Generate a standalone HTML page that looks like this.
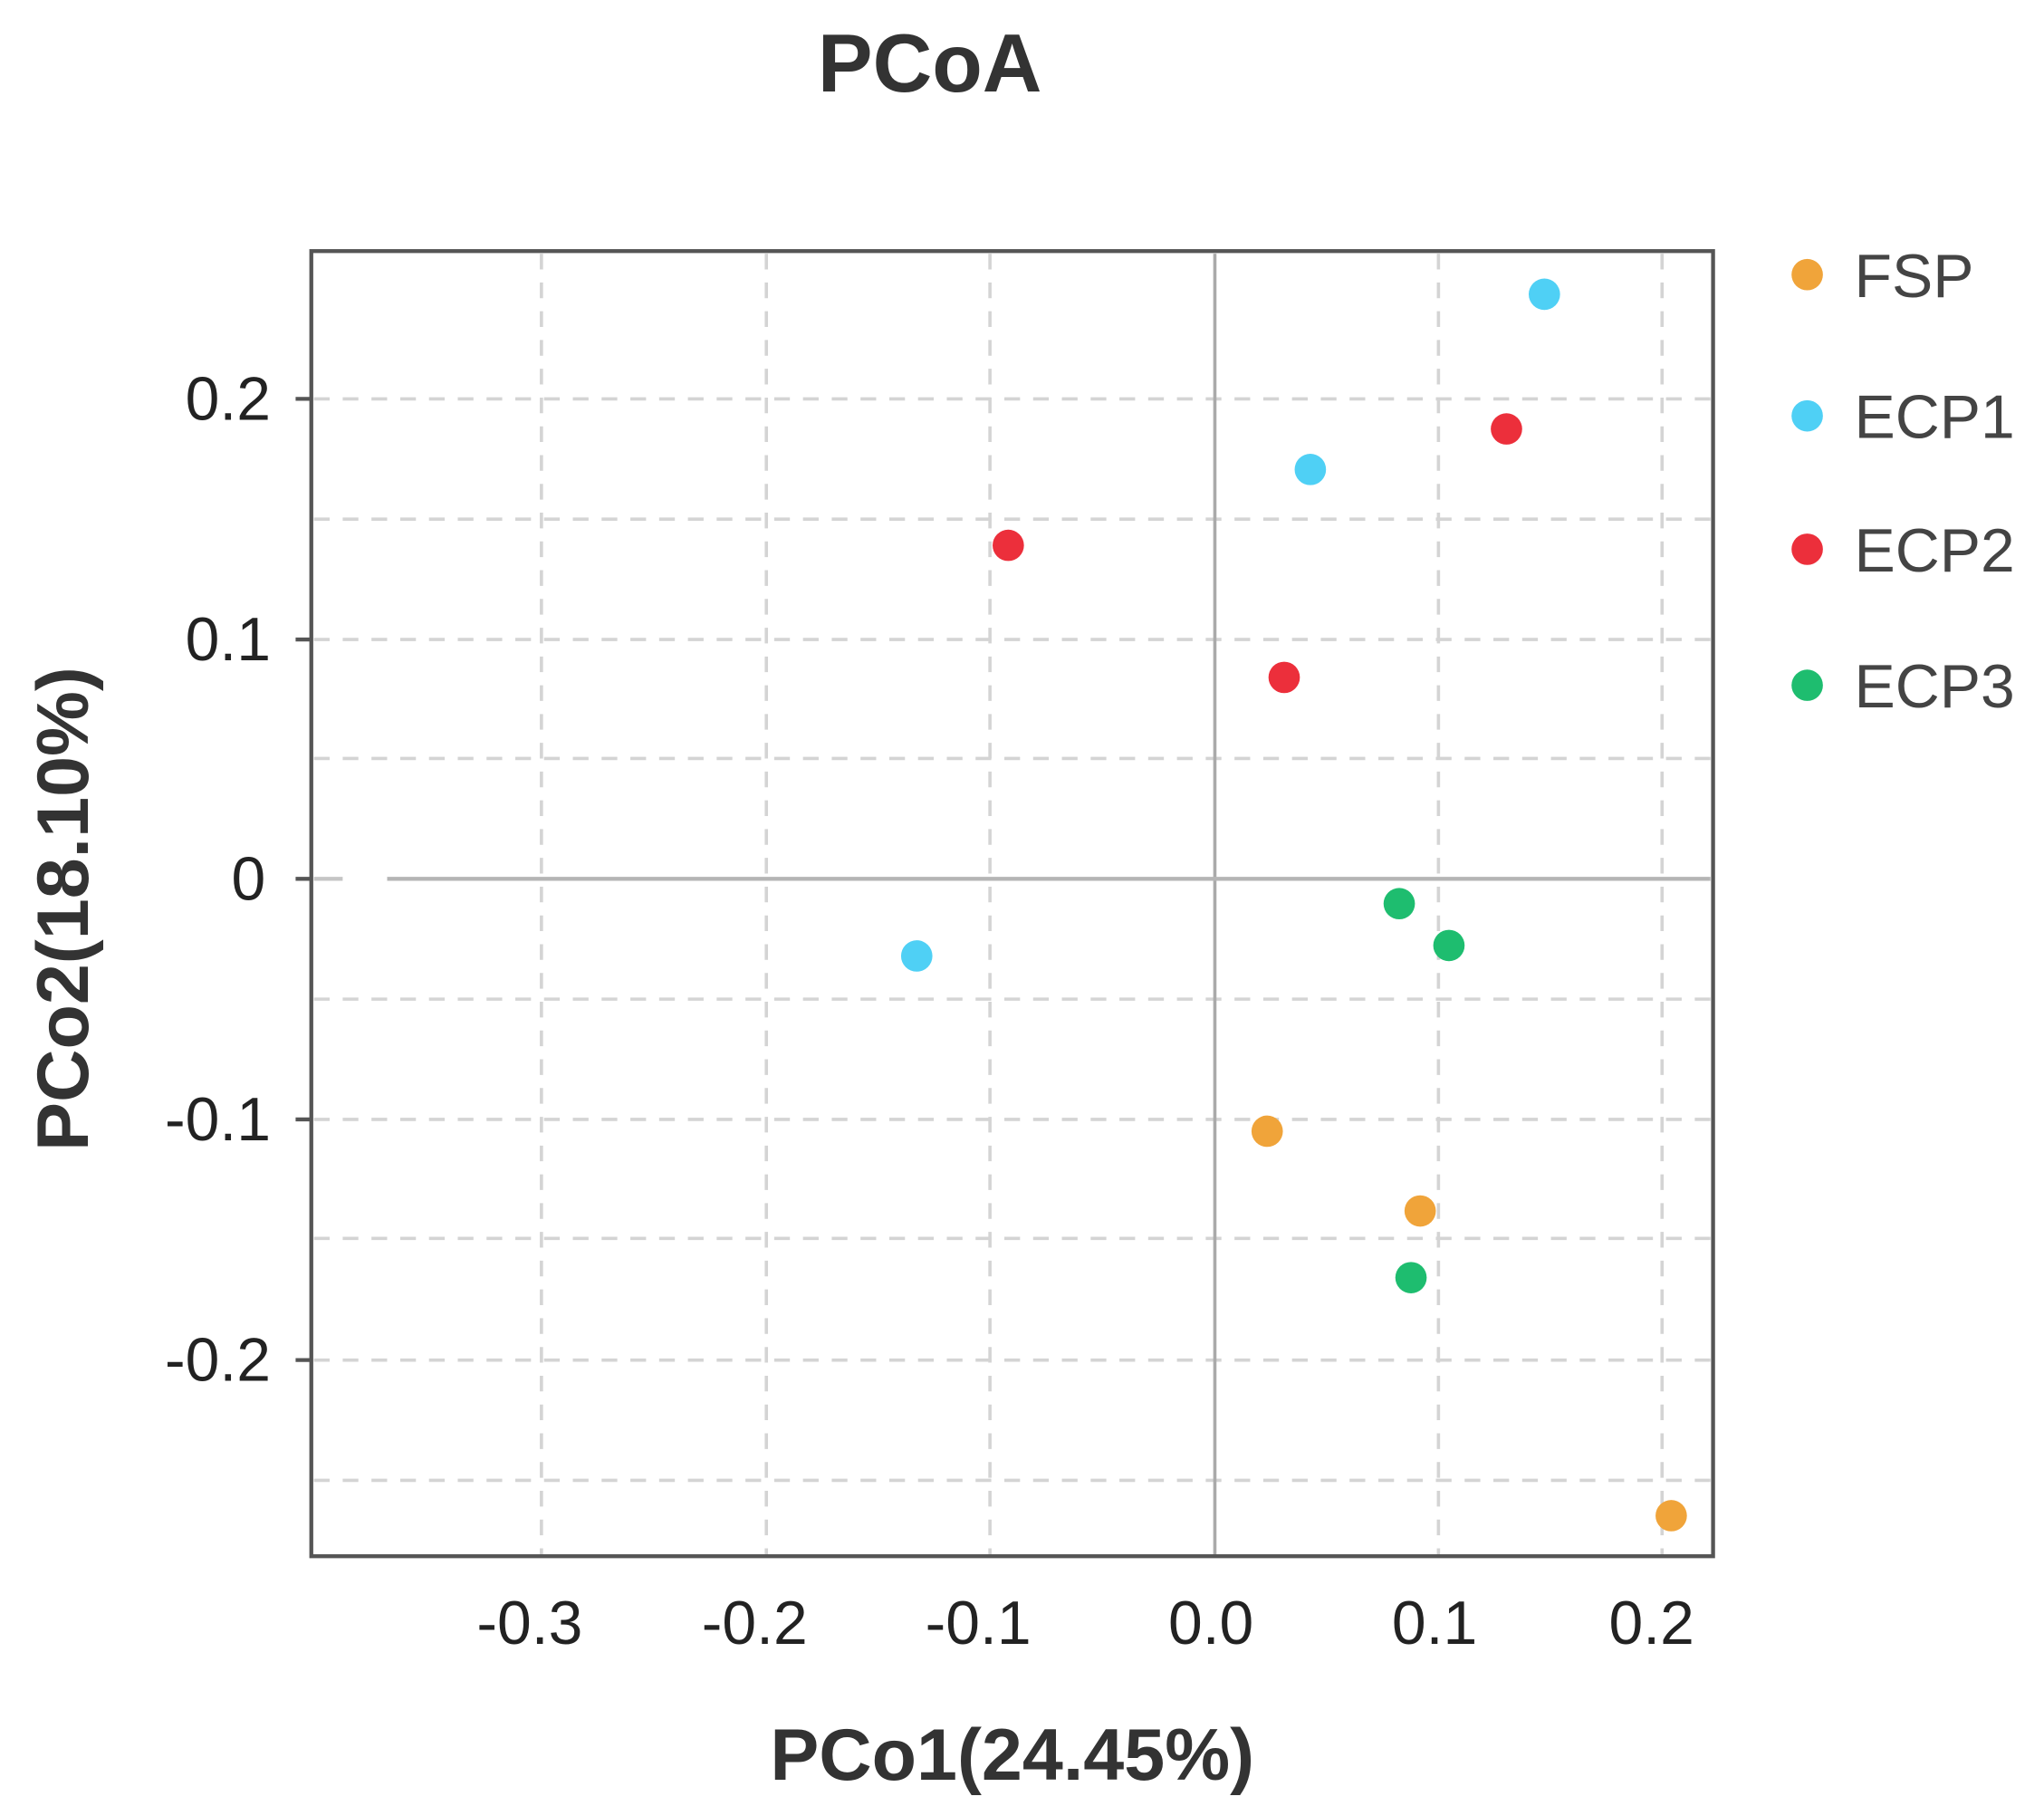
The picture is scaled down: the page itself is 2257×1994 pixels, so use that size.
<!DOCTYPE html>
<html><head><meta charset="utf-8"><style>html,body{margin:0;padding:0;background:#fff}svg{display:block}</style></head>
<body>
<svg width="2257" height="1994" viewBox="0 0 1563 1381" xmlns="http://www.w3.org/2000/svg" font-family="Liberation Sans, sans-serif">
<rect width="1563" height="1381" fill="#fff"/>
<text x="711" y="70" font-size="63" font-weight="bold" text-anchor="middle" fill="#333">PCoA</text>
<g stroke="#d4d4d4" stroke-width="2.5" stroke-dasharray="12,10">
<line x1="414" y1="194" x2="414" y2="1189"/>
<line x1="586" y1="194" x2="586" y2="1189"/>
<line x1="757" y1="194" x2="757" y2="1189"/>
<line x1="1100" y1="194" x2="1100" y2="1189"/>
<line x1="1271" y1="194" x2="1271" y2="1189"/>
<line x1="240" y1="305" x2="1308" y2="305"/>
<line x1="240" y1="397" x2="1308" y2="397"/>
<line x1="240" y1="489" x2="1308" y2="489"/>
<line x1="240" y1="580" x2="1308" y2="580"/>
<line x1="240" y1="764" x2="1308" y2="764"/>
<line x1="240" y1="856" x2="1308" y2="856"/>
<line x1="240" y1="947" x2="1308" y2="947"/>
<line x1="240" y1="1040" x2="1308" y2="1040"/>
<line x1="240" y1="1132" x2="1308" y2="1132"/>
</g>
<line x1="929" y1="194" x2="929" y2="1189" stroke="#aaa" stroke-width="2.5"/>
<line x1="296" y1="672" x2="1308" y2="672" stroke="#b5b5b5" stroke-width="3"/>
<line x1="240" y1="672" x2="262" y2="672" stroke="#c5c5c5" stroke-width="3"/>
<rect x="238" y="192" width="1072" height="998" fill="none" stroke="#555" stroke-width="3"/>
<g stroke="#555" stroke-width="3">
<line x1="226" y1="305" x2="238" y2="305"/><line x1="226" y1="489" x2="238" y2="489"/>
<line x1="226" y1="672" x2="238" y2="672"/><line x1="226" y1="856" x2="238" y2="856"/>
<line x1="226" y1="1040" x2="238" y2="1040"/>
</g>
<g font-size="47" fill="#222" text-anchor="end">
<text x="207" y="321">0.2</text><text x="207" y="505">0.1</text><text x="203" y="688">0</text>
<text x="207" y="872">-0.1</text><text x="207" y="1056">-0.2</text>
</g>
<g font-size="47" fill="#222" text-anchor="middle">
<text x="405" y="1257">-0.3</text><text x="577" y="1257">-0.2</text><text x="748" y="1257">-0.1</text>
<text x="926" y="1257">0.0</text><text x="1097" y="1257">0.1</text><text x="1263" y="1257">0.2</text>
</g>
<text x="774" y="1361" font-size="56" font-weight="bold" text-anchor="middle" fill="#333">PCo1(24.45%)</text>
<text transform="translate(67,695) rotate(-90)" font-size="56" font-weight="bold" text-anchor="middle" fill="#333">PCo2(18.10%)</text>
<g>
<circle cx="1181" cy="225" r="12" fill="#4fd0f5"/><circle cx="1002" cy="359" r="12" fill="#4fd0f5"/><circle cx="701" cy="731" r="12" fill="#4fd0f5"/>
<circle cx="1152" cy="328" r="12" fill="#ec2f3b"/><circle cx="771" cy="417" r="12" fill="#ec2f3b"/><circle cx="982" cy="518" r="12" fill="#ec2f3b"/>
<circle cx="1070" cy="691" r="12" fill="#1ebd6f"/><circle cx="1108" cy="723" r="12" fill="#1ebd6f"/><circle cx="1079" cy="977" r="12" fill="#1ebd6f"/>
<circle cx="969" cy="865" r="12" fill="#f0a43a"/><circle cx="1086" cy="926" r="12" fill="#f0a43a"/><circle cx="1278" cy="1159" r="12" fill="#f0a43a"/>
</g>
<g font-size="47" fill="#444">
<circle cx="1382" cy="210" r="12" fill="#f0a43a"/><text x="1418" y="227">FSP</text>
<circle cx="1382" cy="318" r="12" fill="#4fd0f5"/><text x="1418" y="335">ECP1</text>
<circle cx="1382" cy="420" r="12" fill="#ec2f3b"/><text x="1418" y="437">ECP2</text>
<circle cx="1382" cy="524" r="12" fill="#1ebd6f"/><text x="1418" y="541">ECP3</text>
</g>
</svg>
</body></html>
